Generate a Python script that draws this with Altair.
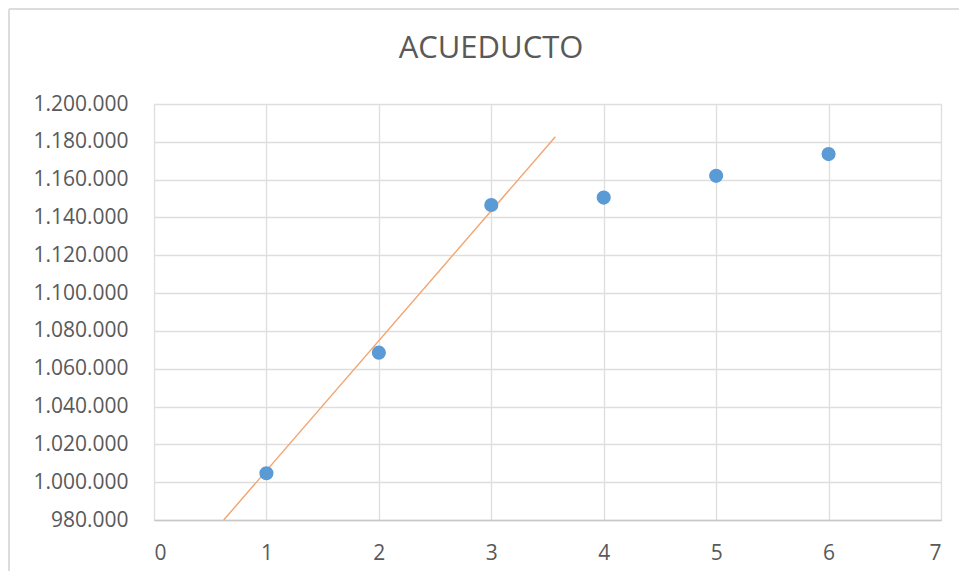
import altair as alt
import pandas as pd

# Data
x_vals = [1, 2, 3, 4, 5, 6]
y_vals = [1004700, 1068500, 1146600, 1150500, 1162000, 1173500]

trend_x = [0.62, 3.57]
trend_y = [980000, 1182700]

y_ticks = list(range(980000, 1200001, 20000))
x_ticks = [0, 1, 2, 3, 4, 5, 6, 7]

chart_title = "ACUEDUCTO"

points_df = pd.DataFrame({"x": x_vals, "y": y_vals})
trend_df = pd.DataFrame({"x": trend_x, "y": trend_y})
title_df = pd.DataFrame({"t": [chart_title]})

FONT = "Open Sans"
GRAY = "#595959"

x_scale = alt.Scale(domain=[0, 7], nice=False, zero=False)
y_scale = alt.Scale(domain=[980000, 1200000], nice=False, zero=False)

x_axis = alt.Axis(values=x_ticks, title=None, format="d", labelFont=FONT, labelFontSize=21,
                  labelColor=GRAY, labelPadding=22, ticks=False, domain=True,
                  labelOverlap=False,
                  domainColor="#c8c8c8", domainWidth=1.5, grid=True,
                  gridColor="#dedede", gridWidth=1.3)
y_axis = alt.Axis(values=y_ticks, title=None, format=",.0f", labelFont=FONT,
                  labelFontSize=21, labelColor=GRAY, labelPadding=26, ticks=False,
                  labelOverlap=False,
                  domain=False, grid=True, gridColor="#dedede", gridWidth=1.3)

points = alt.Chart(points_df).mark_circle(size=200, color="#5b9bd5", opacity=1).encode(
    x=alt.X("x:Q", scale=x_scale, axis=x_axis),
    y=alt.Y("y:Q", scale=y_scale, axis=y_axis),
)

trend = alt.Chart(trend_df).mark_line(color="#f2a46e", strokeWidth=1.4).encode(
    x=alt.X("x:Q", scale=x_scale, axis=x_axis),
    y=alt.Y("y:Q", scale=y_scale, axis=y_axis),
)

title_mark = alt.Chart(title_df).mark_text(
    font=FONT, fontSize=31, color=GRAY, align="center", baseline="alphabetic"
).encode(text="t:N", x=alt.value(337), y=alt.value(-46))

border_left = alt.Chart(points_df).mark_rule(color="#dcdcdc", strokeWidth=2).encode(
    x=alt.value(-145), y=alt.value(-95), y2=alt.value(467))
border_top = alt.Chart(points_df).mark_rule(color="#dcdcdc", strokeWidth=2).encode(
    x=alt.value(-145), x2=alt.value(805), y=alt.value(-95))

chart = alt.layer(trend, points, title_mark, border_left, border_top).properties(
    width=787,
    height=416,
    autosize=alt.AutoSizeParams(type="none"),
    padding={"left": 146, "top": 96, "right": 18, "bottom": 51},
).configure_view(stroke=None).configure(
    locale={"number": {"decimal": ",", "thousands": ".", "grouping": [3],
                       "currency": ["$", ""]}}
)

chart.save("out.html", embed_options={"renderer": "svg", "actions": False})
